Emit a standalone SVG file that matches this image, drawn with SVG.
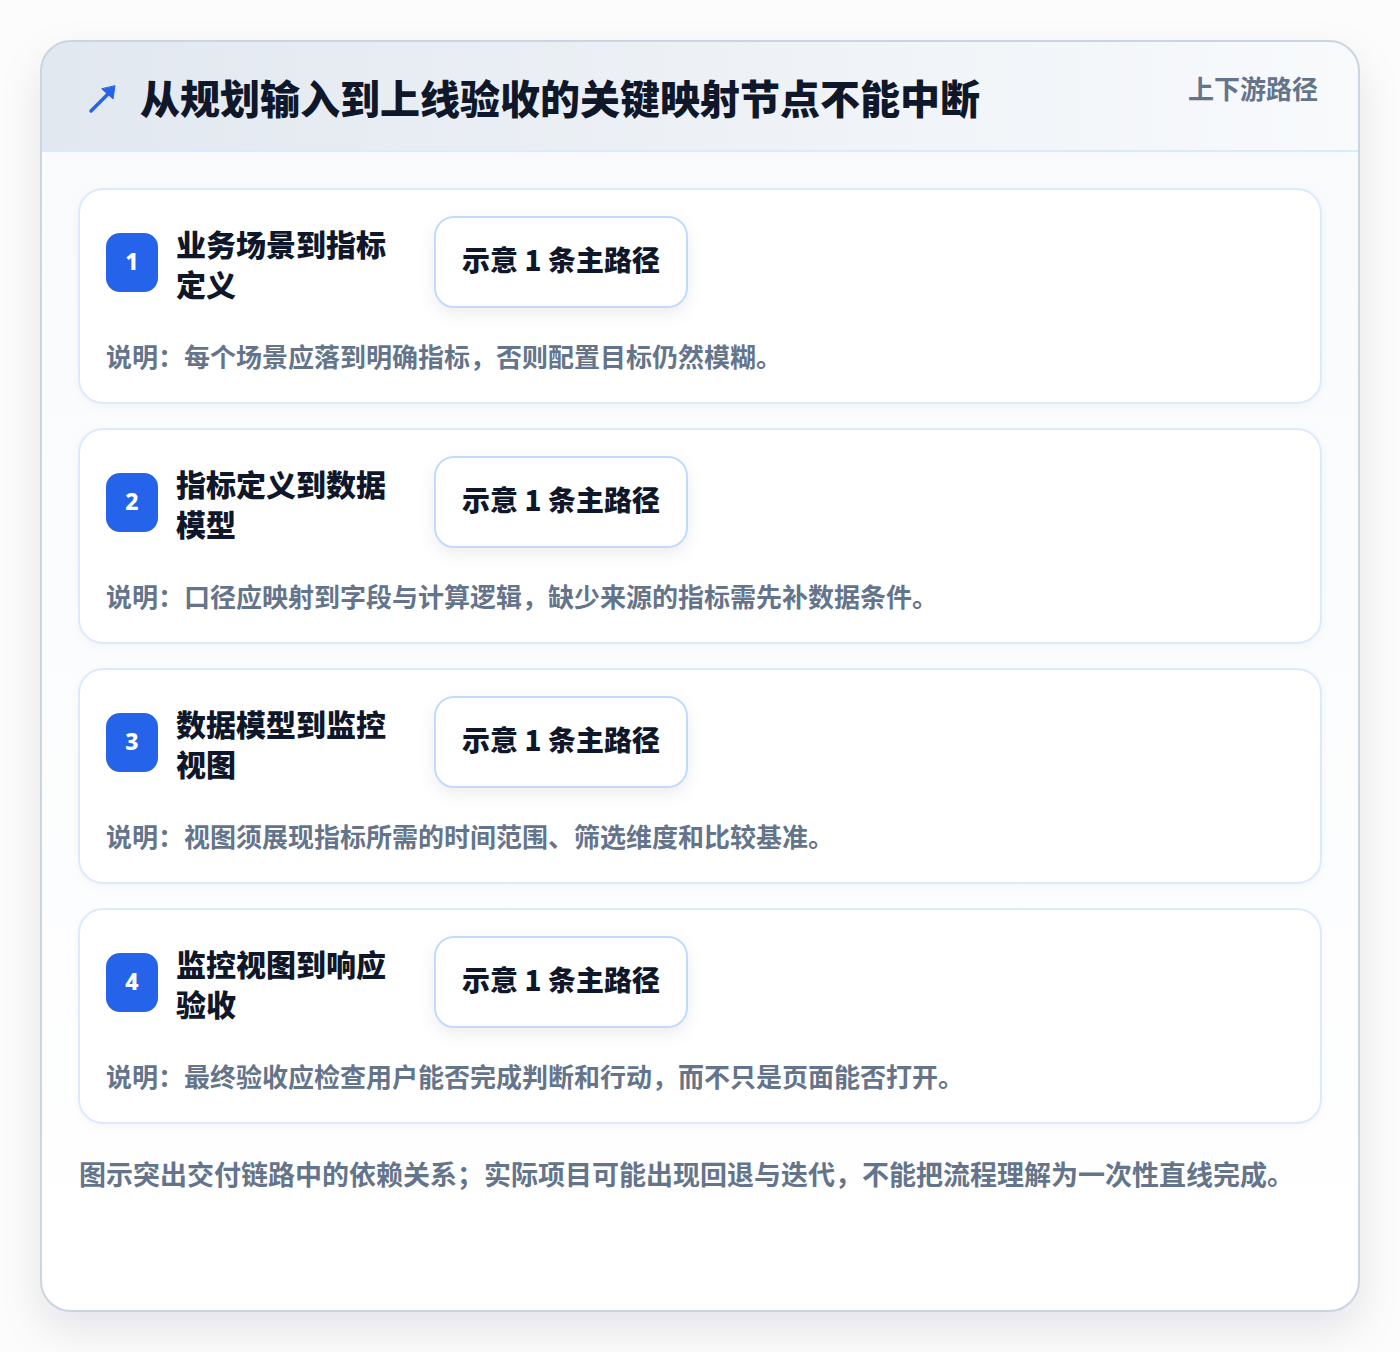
<svg xmlns="http://www.w3.org/2000/svg" width="1400" height="1352" viewBox="0 0 1400 1352">
<defs>
<style>
.t{font-family:"Noto Sans CJK SC","Noto Sans",sans-serif;}
.title{font-size:40px;font-weight:900;fill:#0f172a;}
.tag{font-size:26px;font-weight:700;fill:#64748b;}
.step{font-size:30px;font-weight:800;fill:#0f172a;}
.pilltxt{font-size:28px;font-weight:800;fill:#0f172a;}
.desc{font-size:26px;font-weight:700;fill:#64748b;}
.foot{font-size:27px;font-weight:700;fill:#64748b;}
.badgetxt{font-family:"Noto Sans","Liberation Sans",sans-serif;font-size:23px;font-weight:800;fill:#ffffff;}
.card{fill:#ffffff;stroke:#dbeafe;stroke-width:2;}
.pill{fill:#ffffff;stroke:#bfdbfe;stroke-width:2;}
.badge{fill:#2563eb;}
</style>
<linearGradient id="hdr" x1="0" y1="0" x2="1" y2="0">
<stop offset="0" stop-color="#e2e8f0"/>
<stop offset="1" stop-color="#f8fafc"/>
</linearGradient>
<linearGradient id="body" x1="0" y1="0" x2="0" y2="1">
<stop offset="0" stop-color="#f8fafc"/>
<stop offset="1" stop-color="#ffffff"/>
</linearGradient>
<filter id="outerShadow" x="-10%" y="-10%" width="120%" height="125%">
<feDropShadow dx="0" dy="18" stdDeviation="20" flood-color="#0f172a" flood-opacity="0.10"/>
</filter>
<filter id="pillShadow" x="-20%" y="-30%" width="140%" height="170%">
<feDropShadow dx="0" dy="6" stdDeviation="8" flood-color="#0f172a" flood-opacity="0.07"/>
</filter>
<filter id="cardShadow" x="-5%" y="-10%" width="110%" height="125%">
<feDropShadow dx="0" dy="3" stdDeviation="4" flood-color="#0f172a" flood-opacity="0.03"/>
</filter>
<clipPath id="outerClip"><rect x="41" y="41" width="1318" height="1270" rx="30"/></clipPath>
</defs>
<rect x="0" y="0" width="1400" height="1352" fill="#fcfcfd"/>
<g id="frame">
<rect x="41" y="41" width="1318" height="1270" rx="30" fill="url(#body)" filter="url(#outerShadow)"/>
<g clip-path="url(#outerClip)">
<rect x="41" y="41" width="1318" height="110" fill="url(#hdr)"/>
<line x1="41" y1="151" x2="1359" y2="151" stroke="#dbeafe" stroke-width="2"/>
</g>
<rect x="41" y="41" width="1318" height="1270" rx="30" fill="none" stroke="#cbd5e1" stroke-width="2"/>
</g>
<g id="header">
<g id="icon" stroke="#2563eb" stroke-width="3.5" stroke-linecap="round" fill="#2563eb">
<line x1="91" y1="111" x2="110" y2="92"/>
<polygon points="115,86 113,99 102,89" stroke-width="1" stroke-linejoin="round"/>
</g>
<text class="t title" x="140" y="114">从规划输入到上线验收的关键映射节点不能中断</text>
<text class="t tag" x="1318" y="99" text-anchor="end">上下游路径</text>
</g>
<g id="step1">
<rect class="card" x="79" y="189" width="1242" height="214" rx="24" filter="url(#cardShadow)"/>
<rect class="badge" x="106" y="233" width="52" height="59" rx="14"/>
<text class="badgetxt" x="132" y="270" text-anchor="middle">1</text>
<text class="t step" x="176" y="256">业务场景到指标</text>
<text class="t step" x="176" y="296">定义</text>
<rect class="pill" x="435" y="217" width="252" height="90" rx="19" filter="url(#pillShadow)"/>
<text class="t pilltxt" x="561" y="271" text-anchor="middle">示意 1 条主路径</text>
<text class="t desc" x="106" y="367">说明：每个场景应落到明确指标，否则配置目标仍然模糊。</text>
</g>
<g id="step2">
<rect class="card" x="79" y="429" width="1242" height="214" rx="24" filter="url(#cardShadow)"/>
<rect class="badge" x="106" y="473" width="52" height="59" rx="14"/>
<text class="badgetxt" x="132" y="510" text-anchor="middle">2</text>
<text class="t step" x="176" y="496">指标定义到数据</text>
<text class="t step" x="176" y="536">模型</text>
<rect class="pill" x="435" y="457" width="252" height="90" rx="19" filter="url(#pillShadow)"/>
<text class="t pilltxt" x="561" y="511" text-anchor="middle">示意 1 条主路径</text>
<text class="t desc" x="106" y="607">说明：口径应映射到字段与计算逻辑，缺少来源的指标需先补数据条件。</text>
</g>
<g id="step3">
<rect class="card" x="79" y="669" width="1242" height="214" rx="24" filter="url(#cardShadow)"/>
<rect class="badge" x="106" y="713" width="52" height="59" rx="14"/>
<text class="badgetxt" x="132" y="750" text-anchor="middle">3</text>
<text class="t step" x="176" y="736">数据模型到监控</text>
<text class="t step" x="176" y="776">视图</text>
<rect class="pill" x="435" y="697" width="252" height="90" rx="19" filter="url(#pillShadow)"/>
<text class="t pilltxt" x="561" y="751" text-anchor="middle">示意 1 条主路径</text>
<text class="t desc" x="106" y="847">说明：视图须展现指标所需的时间范围、筛选维度和比较基准。</text>
</g>
<g id="step4">
<rect class="card" x="79" y="909" width="1242" height="214" rx="24" filter="url(#cardShadow)"/>
<rect class="badge" x="106" y="953" width="52" height="59" rx="14"/>
<text class="badgetxt" x="132" y="990" text-anchor="middle">4</text>
<text class="t step" x="176" y="976">监控视图到响应</text>
<text class="t step" x="176" y="1016">验收</text>
<rect class="pill" x="435" y="937" width="252" height="90" rx="19" filter="url(#pillShadow)"/>
<text class="t pilltxt" x="561" y="991" text-anchor="middle">示意 1 条主路径</text>
<text class="t desc" x="106" y="1087">说明：最终验收应检查用户能否完成判断和行动，而不只是页面能否打开。</text>
</g>
<g id="footnote">
<text class="t foot" x="79" y="1185">图示突出交付链路中的依赖关系；实际项目可能出现回退与迭代，不能把流程理解为一次性直线完成。</text>
</g>
<g id="connectors"/>
</svg>
